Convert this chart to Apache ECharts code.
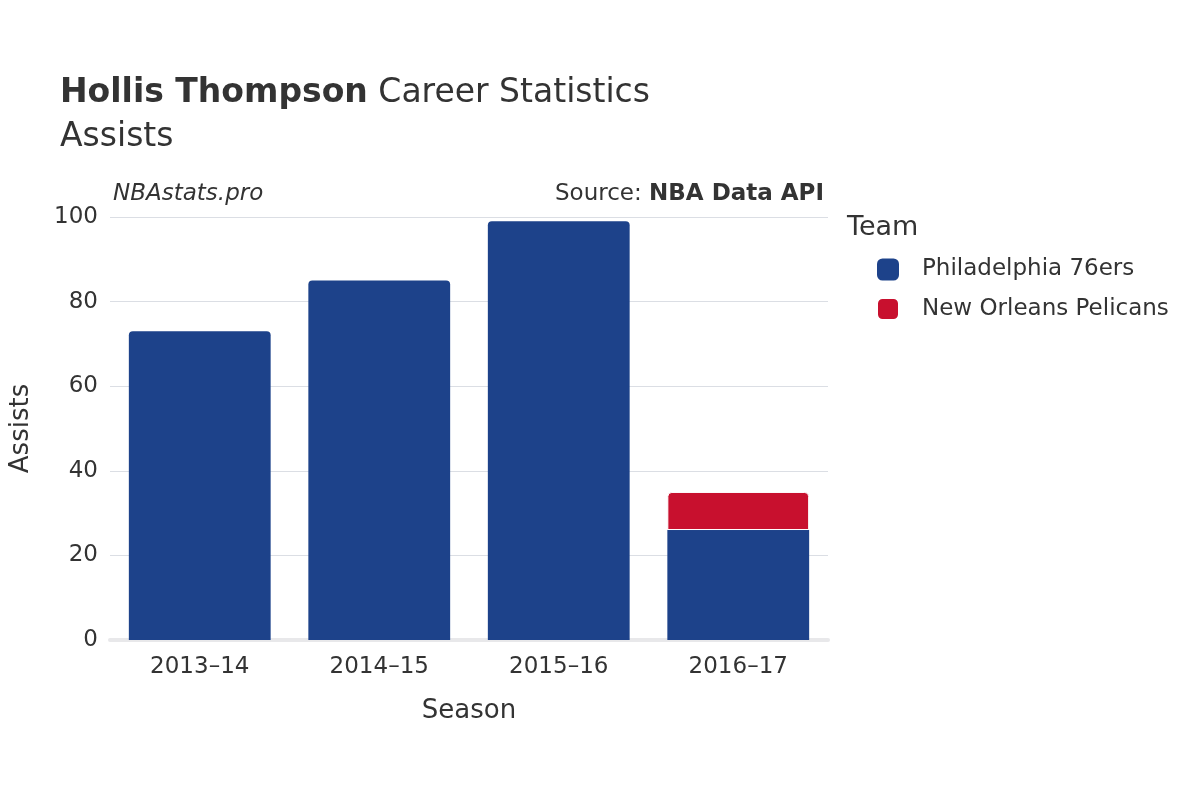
<!DOCTYPE html>
<html><head><meta charset="utf-8">
<script src="https://cdn.jsdelivr.net/npm/echarts@6/dist/echarts.min.js"></script>
<style>html,body{margin:0;padding:0;background:#fff}#c{width:1200px;height:800px}</style>
</head><body><div id="c"></div>
<script>
const seasons = ['2013–14','2014–15','2015–16','2016–17'];
const phi = [73, 85, 99, 26];
const nop = [null, null, null, 9];
const yTicks = [0,20,40,60,80,100];

const chart = echarts.init(document.getElementById('c'));
const F = 'DejaVu Sans, sans-serif';
chart.setOption({
  animation:false,
  textStyle:{fontFamily:F},
  title:[
    {text:'{b|Hollis Thompson} Career Statistics\nAssists',left:55,top:66,
     textStyle:{fontFamily:F,fontSize:33,fontWeight:'normal',color:'#333',lineHeight:44,
       rich:{b:{fontFamily:F,fontSize:33,fontWeight:'bold',color:'#333'}}}},
    {text:'NBAstats.pro',left:108,top:178,textStyle:{fontFamily:F,fontSize:23,fontStyle:'italic',fontWeight:'normal',color:'#333'}},
    {text:'Source: {b|NBA Data API}',right:371,top:178,textStyle:{fontFamily:F,fontSize:23,fontWeight:'normal',color:'#333',
       rich:{b:{fontFamily:F,fontSize:23,fontWeight:'bold',color:'#333'}}}},
    {text:'Team',left:842,top:209,textStyle:{fontFamily:F,fontSize:27,fontWeight:'normal',color:'#333'}}
  ],
  legend:{left:871,top:253,orient:'vertical',itemWidth:22,itemHeight:22,itemGap:16,
    data:['Philadelphia 76ers','New Orleans Pelicans'],
    textStyle:{fontFamily:F,fontSize:23,color:'#333',padding:[0,0,0,18]}},
  grid:{left:108,right:372,top:217,bottom:160,containLabel:false},
  xAxis:{type:'category',data:seasons,name:'Season',nameLocation:'middle',nameGap:58,
    nameTextStyle:{fontSize:26,color:'#333',fontFamily:F},
    axisLine:{lineStyle:{color:'#e8e8ea',width:4}},axisTick:{show:false},
    axisLabel:{fontSize:23,color:'#333',margin:16,fontFamily:F}},
  yAxis:{type:'value',min:0,max:100,interval:20,name:'Assists',nameLocation:'middle',nameGap:76,
    nameTextStyle:{fontSize:26,color:'#333',fontFamily:F},
    axisLine:{show:false},axisTick:{show:false},
    axisLabel:{fontSize:23,color:'#333',margin:12,fontFamily:F}},
  series:[
    {name:'Philadelphia 76ers',type:'bar',stack:'a',barCategoryGap:'21%',
     itemStyle:{color:'#1d428a',borderRadius:[4,4,0,0]},
     data:phi.map((v,i)=>nop[i]!=null?{value:v,itemStyle:{borderRadius:0}}:v)},
    {name:'New Orleans Pelicans',type:'bar',stack:'a',
     itemStyle:{color:'#c8102e',borderRadius:[4,4,0,0],borderColor:'#fff',borderWidth:1},
     data:nop}
  ]
});
</script></body></html>
